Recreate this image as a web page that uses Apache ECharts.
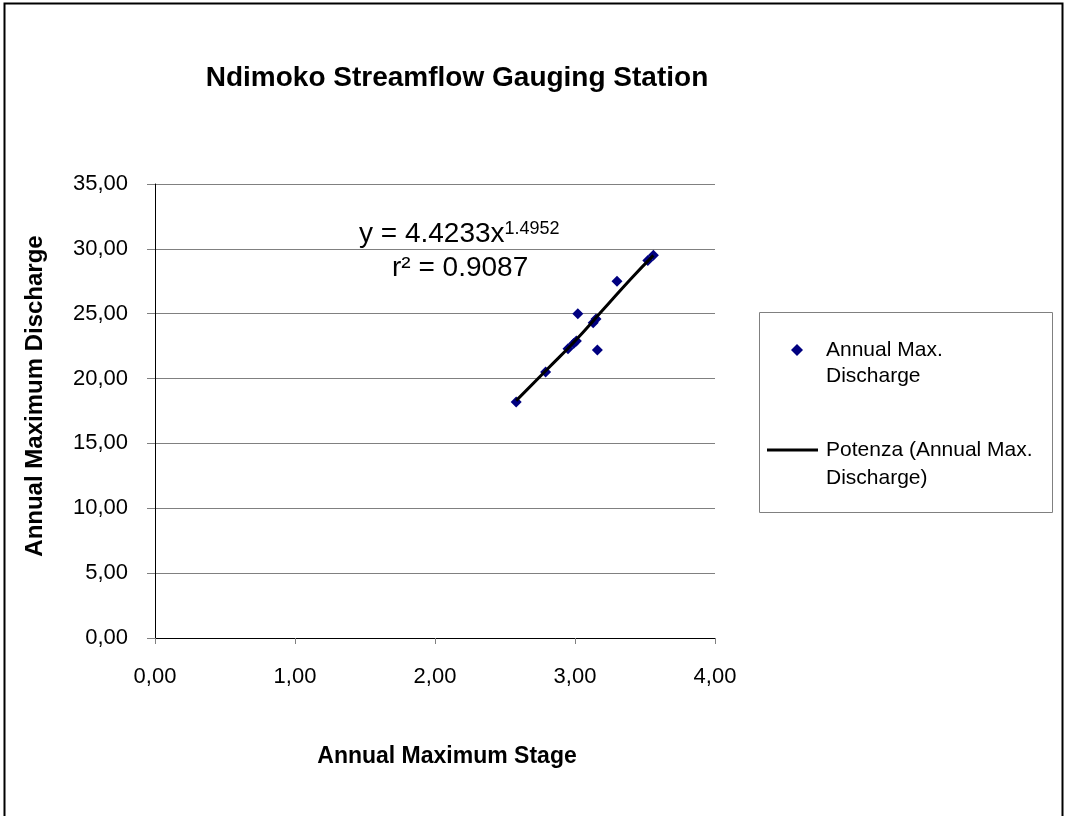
<!DOCTYPE html>
<html>
<head>
<meta charset="utf-8">
<script src="https://cdn.jsdelivr.net/npm/echarts@6/dist/echarts.min.js"></script>
<style>
  html, body { margin: 0; padding: 0; background: #fff; }
  #chart { width: 1069px; height: 816px; }
</style>
</head>
<body>
<div id="chart"></div>
<script>
// stage (x) vs discharge (y)
var stage     = [2.58, 2.79, 2.95, 2.99, 3.01, 3.02, 3.13, 3.15, 3.16, 3.30, 3.52, 3.56];
var discharge = [18.2, 20.5, 22.3, 22.7, 22.9, 25.0, 24.3, 24.6, 22.2, 27.5, 29.1, 29.5];

// power trend line
var trendX = [2.58, 2.80, 3.00, 3.20, 3.40, 3.56];
var trendY = [18.3, 20.7, 22.9, 25.3, 27.7, 29.5];

var yTicks = [0, 5, 10, 15, 20, 25, 30, 35];
var xTicks = [0, 1, 2, 3, 4];

var font = 'Arial, "Liberation Sans", sans-serif';

function fmt(v){
	return v.toFixed(2).replace('.', ',');
}

var points = stage.map(function(s, i){ return [s, discharge[i]]; });
var trend = trendX.map(function(s, i){ return [s, trendY[i]]; });

var myChart = echarts.init(document.getElementById('chart'));

var option = {
	backgroundColor: '#fff',
	animation: false,
	title: {
		text: 'Ndimoko Streamflow Gauging Station',
		left: 452,
		textAlign: 'center',
		top: 59,
		textStyle: { fontFamily: font, fontSize: 28, fontWeight: 'bold', color: '#000' }
	},
	grid: { left: 155, right: 354, top: 184, bottom: 178 },
	xAxis: {
		type: 'value',
		min: xTicks[0], max: xTicks[xTicks.length - 1], interval: 1,
		name: 'Annual Maximum Stage',
		nameLocation: 'middle',
		nameGap: 107,
		nameTextStyle: { fontFamily: font, fontSize: 23, fontWeight: 'bold', color: '#000', padding: [0, 0, 0, 24] },
		axisLine: { lineStyle: { color: '#000', width: 1 } },
		axisTick: { show: true, length: 6, lineStyle: { color: '#808080' } },
		axisLabel: { margin: 28, fontFamily: font, fontSize: 22, color: '#000', formatter: fmt },
		splitLine: { show: false }
	},
	yAxis: {
		type: 'value',
		min: yTicks[0], max: yTicks[yTicks.length - 1], interval: 5,
		name: 'Annual Maximum Discharge',
		nameLocation: 'middle',
		nameGap: 108,
		nameTextStyle: { fontFamily: font, fontSize: 24, fontWeight: 'bold', color: '#000', padding: [0, 0, 0, 30] },
		axisLine: { show: true, lineStyle: { color: '#000', width: 1 } },
		axisTick: { show: true, length: 8, lineStyle: { color: '#808080' } },
		axisLabel: { margin: 27, fontFamily: font, fontSize: 22, color: '#000', formatter: fmt },
		splitLine: { show: true, lineStyle: { color: '#808080', width: 1 } }
	},
	legend: [{
		data: [{ name: 'Annual Max. Discharge', icon: 'diamond' }],
		left: 791, top: 339.5, padding: 0,
		itemWidth: 12, itemHeight: 12,
		formatter: function(){ return 'Annual Max.'; },
		textStyle: { fontFamily: font, fontSize: 21, color: '#000', padding: [0, 0, 0, 18] }
	}, {
		data: [{ name: 'Potenza (Annual Max. Discharge)', icon: 'rect' }],
		left: 767, top: 439.5, padding: 0,
		itemWidth: 51, itemHeight: 3,
		formatter: function(){ return 'Potenza (Annual Max.'; },
		textStyle: { fontFamily: font, fontSize: 21, color: '#000', padding: [0, 0, 0, 3] }
	}],
	series: [{
		name: 'Annual Max. Discharge',
		type: 'scatter',
		symbol: 'diamond',
		symbolSize: 11,
		itemStyle: { color: '#000080', opacity: 1 },
		data: points,
		z: 2
	}, {
		name: 'Potenza (Annual Max. Discharge)',
		type: 'line',
		showSymbol: false,
		symbol: 'none',
		smooth: true,
		lineStyle: { color: '#000', width: 3 },
		itemStyle: { color: '#000' },
		data: trend,
		z: 3
	}],
	graphic: [{
		type: 'rect',
		shape: { x: 4.5, y: 3.5, width: 1058, height: 830 },
		style: { fill: 'none', stroke: '#000', lineWidth: 2 },
		silent: true, z: -1
	}, {
		type: 'rect',
		shape: { x: 759.5, y: 312.5, width: 293, height: 200 },
		style: { fill: 'none', stroke: '#808080', lineWidth: 1 },
		silent: true
	}, {
		type: 'text',
		left: 826, top: 366,
		style: { text: 'Discharge', fontFamily: font, fontSize: 21, fill: '#000' }
	}, {
		type: 'text',
		left: 826, top: 468,
		style: { text: 'Discharge)', fontFamily: font, fontSize: 21, fill: '#000' }
	}, {
		type: 'text',
		left: 359, top: 220,
		style: {
			text: '{m|y = 4.4233x}{s|1.4952}',
			rich: {
				m: { fontFamily: font, fontSize: 28, fill: '#000' },
				s: { fontFamily: font, fontSize: 18, fill: '#000', verticalAlign: 'top' }
			}
		}
	}, {
		type: 'text',
		left: 392, top: 254,
		style: { text: 'r² = 0.9087', fontFamily: font, fontSize: 28, fill: '#000' }
	}]
};

myChart.setOption(option);
</script>
</body>
</html>
